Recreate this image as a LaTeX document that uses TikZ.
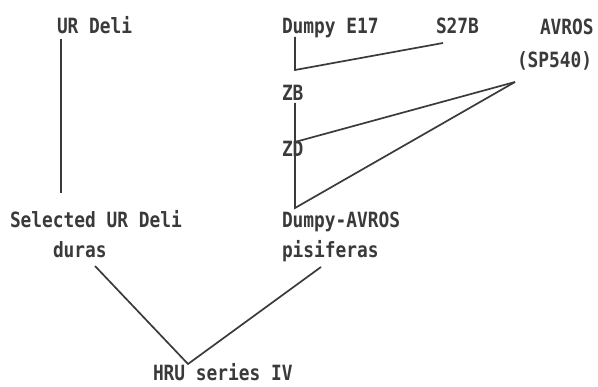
\documentclass[tikz,border=0pt]{standalone}
\usepackage{fontspec}
\newfontfamily\dotfont[FakeStretch=0.85]{DejaVu Sans Mono}
\definecolor{ink}{HTML}{3a3a3a}
\begin{document}
\begin{tikzpicture}[x=1pt,y=-1pt,
  lbl/.style={anchor=base west,inner sep=0pt,outer sep=0pt,text=ink,
    font=\dotfont\bfseries\fontsize{21}{21}\selectfont},
  link/.style={draw=ink,line width=1.7pt,line join=miter}]
\useasboundingbox (0,0) rectangle (598,387);

% parent lines
\node[lbl] (urdeli) at (57,34) {UR Deli};
\node[lbl] (dumpy)  at (282,34) {Dumpy E17};
\node[lbl] (s27b)   at (436,34) {S27B};
\node[lbl] (avros)  at (540,35) {AVROS};
\node[lbl] (sp540)  at (517,68) {(SP540)};
\node[lbl] (zb)     at (282,101) {ZB};
\node[lbl] (zd)     at (282,157) {ZD};

% selected progenies
\node[lbl] (selected) at (10,228) {Selected UR Deli};
\node[lbl] (duras)    at (53,258) {duras};
\node[lbl] (dav)      at (282,228) {Dumpy-AVROS};
\node[lbl] (pisi)     at (282,258) {pisiferas};
\node[lbl] (hru)      at (153,381) {HRU series IV};

% junction points of the crosses
\coordinate (jdumpy) at (295,70);
\coordinate (jzb)    at (295,142);
\coordinate (jzd)    at (295,208);
\coordinate (javros) at (515,82);
\coordinate (jhru)   at (188,364);

% UR Deli selection
\draw[link] (61,39) -- (61,193);

% Dumpy E17 x S27B -> ZB
\draw[link] (295,37) -- (jdumpy) -- (443,43);
% ZB x AVROS -> ZD
\draw[link] (295,103) -- (jzb) -- (javros);
% ZD x AVROS -> Dumpy-AVROS
\draw[link] (295,150) -- (jzd) -- (javros);
% dura x pisifera -> HRU series IV
\draw[link] (95,266) -- (jhru) -- (321,267);
\end{tikzpicture}
\end{document}
